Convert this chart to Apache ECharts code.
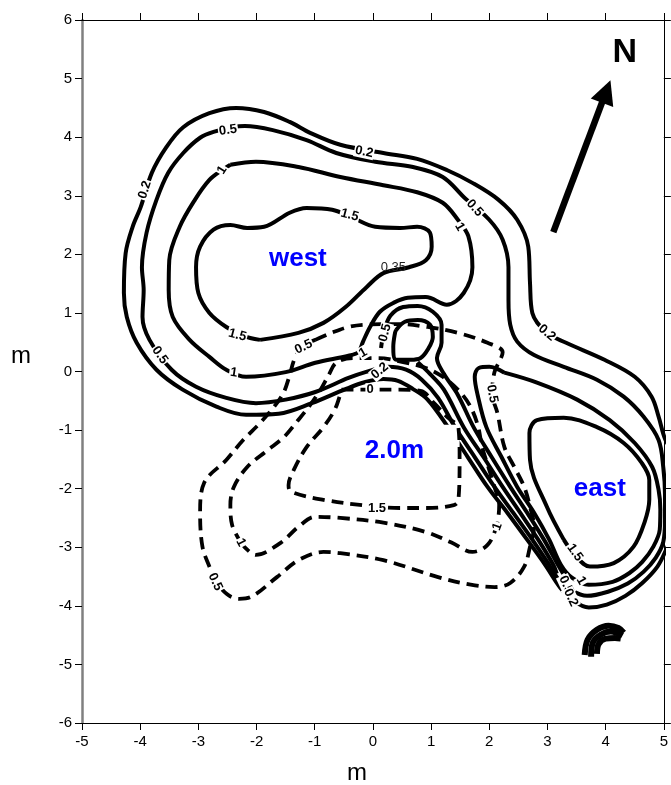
<!DOCTYPE html>
<html>
<head>
<meta charset="utf-8">
<script src="https://cdn.jsdelivr.net/npm/echarts@6.0.0/dist/echarts.min.js"></script>
<style>
  html, body { margin: 0; padding: 0; background: #fff; }
  #chart { width: 671px; height: 785px; }
</style>
</head>
<body>
<div id="chart"></div>
<script>
// Axis extents (metres)
const xRange = [-5, 5];
const yRange = [-6, 6];

// ---- Solid contours (depth, m) ----
const contour02 = [
  [5.21,-1.42],[5.03,-1.17],[4.91,-0.77],[4.79,-0.43],[4.50,-0.09],[3.98,0.20],[3.32,0.49],[2.99,0.66],
  [2.74,1.00],[2.70,1.51],[2.67,2.13],[2.48,2.59],[2.16,2.93],[1.71,3.22],[1.27,3.44],[0.76,3.63],
  [0.18,3.73],[-0.56,3.87],[-1.07,4.07],[-1.43,4.26],[-1.87,4.43],[-2.35,4.50],[-2.81,4.41],[-3.26,4.17],
  [-3.55,3.83],[-3.80,3.39],[-3.99,2.81],[-4.13,2.47],[-4.25,2.02],[-4.28,1.34],[-4.23,0.93],[-4.06,0.49],
  [-3.72,0.03],[-3.27,-0.31],[-2.69,-0.60],[-2.18,-0.74],[-1.62,-0.72],[-1.05,-0.54],[-0.47,-0.30],
  [-0.13,-0.18],[0.18,-0.13],[0.43,-0.16],[0.69,-0.30],[0.94,-0.48],[1.29,-0.95],[1.63,-1.46],
  [1.97,-1.97],[2.31,-2.41],[2.65,-2.87],[2.96,-3.30],[3.22,-3.69],[3.44,-3.91],[3.71,-4.03],
  [4.02,-3.98],[4.34,-3.83],[4.63,-3.61],[4.89,-3.33],[5.04,-3.04],[5.18,-2.70]
];
const contour05 = [
  [-2.74,4.09],[-2.20,4.19],[-1.72,4.12],[-1.14,3.95],[-0.63,3.73],[0.04,3.58],[0.69,3.49],[1.20,3.32],
  [1.56,2.98],[2.00,2.59],[2.23,2.25],[2.33,1.78],[2.33,1.22],[2.36,0.80],[2.48,0.51],[2.77,0.28],
  [3.28,0.08],[3.85,-0.14],[4.31,-0.43],[4.65,-0.77],[4.91,-1.17],[4.99,-1.63],[5.02,-2.11],[5.02,-2.53],
  [4.99,-2.91],[4.86,-3.18],[4.65,-3.42],[4.38,-3.62],[4.04,-3.76],[3.68,-3.83],[3.42,-3.74],[3.20,-3.56],
  [3.03,-3.30],[2.74,-2.87],[2.41,-2.41],[2.09,-1.97],[1.75,-1.46],[1.41,-0.95],[1.12,-0.45],[0.84,-0.14],
  [0.57,0.03],[0.26,0.08],[-0.13,-0.01],[-0.42,-0.11],[-0.99,-0.35],[-1.50,-0.48],[-2.01,-0.54],
  [-2.52,-0.45],[-3.04,-0.26],[-3.46,0.03],[-3.84,0.54],[-3.96,0.93],[-3.94,1.39],[-3.97,1.78],
  [-3.89,2.37],[-3.72,2.93],[-3.52,3.39],[-3.26,3.73],[-2.97,3.99],[-2.74,4.09]
];
const contour1West = [
  [-2.45,3.53],[-2.01,3.58],[-1.28,3.49],[-0.56,3.32],[0.18,3.18],[0.76,3.06],[1.20,2.88],[1.46,2.59],
  [1.64,2.31],[1.71,1.78],[1.56,1.34],[1.27,1.14],[0.91,1.27],[0.60,1.26],[0.35,1.17],[0.12,1.02],
  [-0.05,0.76],[-0.17,0.51],[-0.25,0.33],[-0.42,0.27],[-0.99,0.15],[-1.50,-0.01],[-2.18,-0.09],
  [-2.52,0.03],[-2.81,0.25],[-3.15,0.54],[-3.44,0.93],[-3.51,1.39],[-3.50,1.90],[-3.32,2.47],
  [-3.06,2.93],[-2.81,3.27],[-2.59,3.44],[-2.45,3.53]
];
const contour15West = [
  [-1.94,0.54],[-1.28,0.66],[-0.85,0.83],[-0.47,1.10],[-0.11,1.44],[0.18,1.68],[0.62,1.78],[0.91,1.90],
  [1.01,2.13],[0.98,2.37],[0.76,2.47],[0.47,2.45],[0.04,2.47],[-0.34,2.62],[-0.70,2.76],[-1.14,2.79],
  [-1.43,2.71],[-1.87,2.47],[-2.16,2.45],[-2.45,2.50],[-2.74,2.42],[-2.97,2.13],[-3.04,1.78],
  [-3.00,1.34],[-2.81,1.00],[-2.52,0.76],[-2.23,0.61],[-1.94,0.54]
];
const knobLoop = [
  [0.40,0.71],[0.55,0.85],[0.77,0.88],[0.98,0.80],[1.03,0.59],[0.94,0.37],[0.82,0.23],[0.65,0.20],
  [0.40,0.20],[0.35,0.42],[0.38,0.66],[0.40,0.71]
];
const knobRing = [
  [0.14,0.40],[0.19,0.68],[0.30,0.95],[0.52,1.10],[0.77,1.12],[1.03,1.02],[1.18,0.80],[1.18,0.49],
  [1.10,0.23],[1.22,-0.04],[1.46,-0.40],[1.73,-0.95],[2.04,-1.46],[2.36,-1.97],[2.65,-2.41],
  [2.94,-2.87],[3.18,-3.30],[3.27,-3.45]
];
const channelLine = [
  [0.77,0.16],[0.98,-0.04],[1.22,-0.31],[1.56,-0.95],[1.90,-1.46],[2.23,-1.97],[2.53,-2.41],
  [2.84,-2.87],[3.10,-3.30],[3.16,-3.45]
];
const contour1East = [
  [2.26,-0.02],[2.00,0.08],[1.82,0.06],[1.75,-0.09],[1.80,-0.40],[1.95,-0.95],[2.21,-1.46],[2.48,-1.97],
  [2.77,-2.41],[3.03,-2.87],[3.23,-3.30],[3.42,-3.52],[3.71,-3.64],[4.12,-3.59],[4.41,-3.44],
  [4.63,-3.25],[4.82,-2.99],[4.93,-2.70],[4.94,-2.36],[4.91,-2.02],[4.80,-1.63],[4.50,-1.22],
  [4.07,-0.83],[3.51,-0.48],[2.82,-0.19],[2.26,-0.02]
];
const contour15East = [
  [3.28,-2.87],[2.99,-2.31],[2.70,-1.51],[2.69,-1.05],[2.82,-0.83],[3.28,-0.79],[3.85,-0.95],
  [4.31,-1.22],[4.62,-1.56],[4.75,-1.85],[4.75,-2.19],[4.67,-2.57],[4.48,-2.99],[4.14,-3.27],
  [3.73,-3.33],[3.47,-3.13],[3.28,-2.87]
];
const tailArcA = [[3.64,-4.84],[3.69,-4.58],[3.85,-4.41],[4.05,-4.34],[4.22,-4.38],[4.31,-4.46]];
const tailArcB = [[3.75,-4.87],[3.78,-4.63],[3.92,-4.49],[4.09,-4.44],[4.29,-4.51]];
const tailArcC = [[3.85,-4.82],[3.88,-4.65],[4.00,-4.56],[4.16,-4.55],[4.26,-4.56]];

// ---- Dashed contours (2.0m) ----
const dashed05 = [
  [-0.99,0.54],[-0.71,0.66],[-0.42,0.76],[-0.13,0.80],[0.43,0.81],[0.94,0.76],[1.46,0.66],[1.97,0.49],
  [2.23,0.33],[2.09,-0.01],[2.05,-0.38],[2.14,-0.71],[2.26,-1.29],[2.43,-1.63],[2.60,-1.97],[2.70,-2.31],
  [2.77,-2.65],[2.70,-2.99],[2.60,-3.33],[2.36,-3.61],[2.09,-3.68],[1.68,-3.64],[1.12,-3.51],
  [0.18,-3.22],[-0.56,-3.10],[-0.85,-3.08],[-1.28,-3.22],[-1.65,-3.51],[-2.10,-3.85],[-2.30,-3.88],
  [-2.51,-3.80],[-2.71,-3.56],[-2.81,-3.33],[-2.93,-2.99],[-2.97,-2.41],[-2.90,-1.90],[-2.52,-1.51],
  [-2.23,-1.17],[-1.94,-0.88],[-1.69,-0.59],[-1.53,-0.35],[-1.43,-0.06],[-1.34,0.23],[-1.19,0.44],
  [-0.99,0.54]
];
const dashed1 = [
  [-2.27,-2.92],[-2.01,-3.13],[-1.58,-2.92],[-1.28,-2.65],[-0.99,-2.48],[-0.56,-2.50],[0.18,-2.58],
  [0.91,-2.74],[1.35,-2.92],[1.71,-3.08],[1.97,-2.96],[2.12,-2.65],[2.17,-2.28],[2.09,-1.97],
  [1.99,-1.65],[1.88,-1.30],[1.80,-0.91],[1.66,-0.57],[1.46,-0.31],[1.20,-0.09],[0.91,0.06],
  [0.52,0.16],[0.09,0.23],[-0.34,0.23],[-0.63,0.15],[-0.76,-0.06],[-0.90,-0.31],[-1.10,-0.60],
  [-1.31,-0.86],[-1.53,-1.12],[-1.82,-1.35],[-2.16,-1.63],[-2.39,-1.97],[-2.45,-2.28],[-2.42,-2.62],
  [-2.27,-2.92]
];
const dashed15 = [
  [-0.54,-0.31],[-0.03,-0.31],[0.43,-0.31],[0.82,-0.33],[1.06,-0.55],[1.29,-0.79],[1.47,-0.96],
  [1.49,-1.51],[1.47,-2.19],[1.39,-2.28],[0.91,-2.33],[0.47,-2.33],[-0.11,-2.29],[-0.85,-2.19],
  [-1.41,-2.05],[-1.45,-1.94],[-1.36,-1.68],[-1.14,-1.29],[-0.85,-0.95],[-0.66,-0.66],[-0.58,-0.45],
  [-0.54,-0.31]
];

// ---- Contour labels: [x, y, text] and their angles ----
const contourLabels = [
  [-3.92,3.10,'0.2'],[-2.49,4.12,'0.5'],[-0.15,3.75,'0.2'],[-2.59,3.44,'1'],[-0.40,2.67,'1.5'],
  [1.75,2.79,'0.5'],[1.49,2.47,'1'],[2.99,0.66,'0.2'],[-2.33,0.62,'1.5'],[-3.66,0.28,'0.5'],
  [-2.39,-0.02,'1'],[-1.19,0.42,'0.5'],[0.21,0.66,'0.5'],[-0.17,0.32,'1'],[0.12,0.01,'0.2'],
  [-0.05,-0.31,'0'],[2.05,-0.38,'0.5'],[0.07,-2.33,'1.5'],[-2.27,-2.92,'1'],[-2.71,-3.59,'0.5'],
  [2.14,-2.65,'1'],[3.47,-3.09,'1.5'],[3.58,-3.57,'1'],[3.32,-3.64,'0.5'],[3.40,-3.86,'0.2']
];
const labelAngles = [72,8,-12,58,-15,-48,-60,-40,-15,-55,-8,25,75,30,40,0,-80,0,-62,-65,70,-55,-60,-65,-65];

// Place names and notes
const placeNames = ['west', '2.0m', 'east'];
const placePos = [[-1.29,1.92],[0.37,-1.35],[3.90,-2.00]];
const noteText = '0.35';
const notePos = [0.35,1.77];
const northText = 'N';
const northPos = [4.33,5.44];
const northArrow = [[3.10,2.38],[4.01,4.78]];
// white backing under the 2.0m caption
const captionBox = [-0.14,-0.91,1.49,-1.75];

const FONT = '"Liberation Sans", Arial, Helvetica, sans-serif';

function contour(data, dashed, width) {
  return {
    type: 'line', data: data, showSymbol: false, symbol: 'none', smooth: 0.35,
    silent: true, clip: true, z: dashed ? 4 : 2, animation: false,
    lineStyle: { color: '#000', width: width || 4, type: dashed ? [12, 7] : 'solid', cap: 'butt', join: 'round' }
  };
}

function textLayer(items, z, labelStyle) {
  return {
    type: 'scatter', z: z, silent: true, symbolSize: 0, animation: false,
    itemStyle: { opacity: 1, color: '#000' },
    data: items,
    label: Object.assign({ show: true, position: 'inside', formatter: '{b}', fontFamily: FONT, opacity: 1 }, labelStyle)
  };
}

const solid = [contour02, contour05, contour1West, contour15West, knobLoop, knobRing,
               channelLine, contour1East, contour15East];
const dashed = [dashed05, dashed1, dashed15];
const tail = [tailArcA, tailArcB, tailArcC];

const series = [];
solid.forEach(d => series.push(contour(d, false)));
tail.forEach(d => series.push(contour(d, false, 6)));
series.push({
  type: 'custom', z: 3, silent: true, animation: false,
  data: [captionBox],
  renderItem: function (params, api) {
    const p1 = api.coord([api.value(0), api.value(1)]);
    const p2 = api.coord([api.value(2), api.value(3)]);
    return { type: 'rect', shape: { x: p1[0], y: p1[1], width: p2[0] - p1[0], height: p2[1] - p1[1] },
             style: { fill: '#fff' } };
  },
  encode: { x: [0, 2], y: [1, 3] }
});
dashed.forEach(d => series.push(contour(d, true, 3.8)));

series.push({
  type: 'lines', coordinateSystem: 'cartesian2d', z: 5, silent: true, animation: false,
  symbol: ['none', 'triangle'], symbolSize: [22, 24],
  lineStyle: { color: '#000', width: 6.5, opacity: 1, curveness: 0 },
  data: [{ coords: northArrow }]
});

series.push(textLayer(
  contourLabels.map((d, i) => ({ name: d[2], value: [d[0], d[1]], label: { rotate: labelAngles[i] } })),
  6, { fontSize: 13, fontWeight: 'bold', color: '#000', backgroundColor: '#fff', padding: [0, 1, 0, 1] }));
series.push(textLayer(
  placeNames.map((t, i) => ({ name: t, value: placePos[i] })),
  7, { fontSize: 26, fontWeight: 'bold', color: '#0000ff' }));
series.push(textLayer([{ name: northText, value: northPos }], 7,
  { fontSize: 34, fontWeight: 'bold', color: '#000' }));
series.push(textLayer([{ name: noteText, value: notePos }], 7,
  { fontSize: 13, color: '#222' }));

const tickLabel = { color: '#000', fontSize: 15, fontFamily: FONT };
const chart = echarts.init(document.getElementById('chart'), null, { renderer: 'canvas' });
chart.setOption({
  animation: false,
  backgroundColor: '#fff',
  textStyle: { fontFamily: FONT },
  grid: { left: 82, right: 4, top: 20, bottom: 62, containLabel: false },
  xAxis: [
    { type: 'value', min: xRange[0], max: xRange[1], interval: 1, position: 'bottom',
      axisLine: { show: true, onZero: false, lineStyle: { color: '#000', width: 1 } },
      axisTick: { show: true, length: 7, lineStyle: { color: '#000', width: 1 } },
      axisLabel: Object.assign({ margin: 11 }, tickLabel), splitLine: { show: false } },
    { type: 'value', min: xRange[0], max: xRange[1], interval: 1, position: 'top',
      axisLine: { show: true, onZero: false, lineStyle: { color: '#000', width: 1 } },
      axisTick: { show: true, length: 7, lineStyle: { color: '#000', width: 1 } },
      axisLabel: { show: false }, splitLine: { show: false } }
  ],
  yAxis: [
    { type: 'value', min: yRange[0], max: yRange[1], interval: 1, position: 'left',
      axisLine: { show: true, onZero: false, lineStyle: { color: '#808080', width: 2.5 } },
      axisTick: { show: true, length: 7, lineStyle: { color: '#000', width: 1 } },
      axisLabel: Object.assign({ margin: 10 }, tickLabel), splitLine: { show: false } },
    { type: 'value', min: yRange[0], max: yRange[1], interval: 1, position: 'right',
      axisLine: { show: true, onZero: false, lineStyle: { color: '#000', width: 1 } },
      axisTick: { show: true, length: 7, lineStyle: { color: '#000', width: 1 } },
      axisLabel: { show: false }, splitLine: { show: false } }
  ],
  graphic: [
    { type: 'text', x: 357, y: 773, silent: true,
      style: { text: 'm', font: '24px ' + FONT, fill: '#000', textAlign: 'center', textVerticalAlign: 'middle' } },
    { type: 'text', x: 21, y: 356, silent: true,
      style: { text: 'm', font: '24px ' + FONT, fill: '#000', textAlign: 'center', textVerticalAlign: 'middle' } }
  ],
  series: series
});
</script>
</body>
</html>
